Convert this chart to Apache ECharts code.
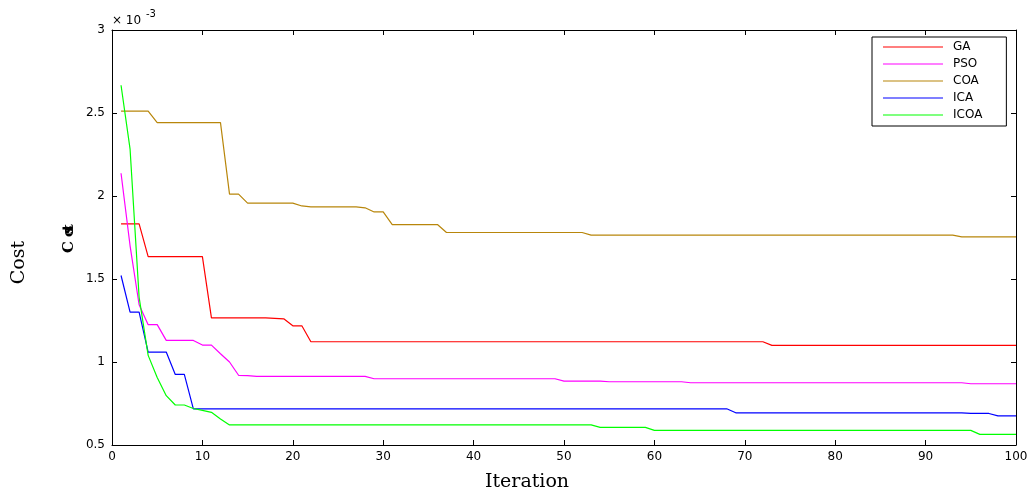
<!DOCTYPE html>
<html>
<head>
<meta charset="utf-8">
<script src="https://cdn.jsdelivr.net/npm/echarts@6/dist/echarts.min.js"></script>
<style>
html,body{margin:0;padding:0;background:#fff;}
#chart{width:1033px;height:497px;}
</style>
</head>
<body>
<div id="chart"></div>
<script>
// Breakpoints of each convergence curve: iteration numbers and cost values (x 10^-3)
const gaIter   = [1, 3, 4, 10, 11, 17, 18, 19, 20, 21, 22, 72, 73, 100];
const gaCost   = [1.832, 1.832, 1.635, 1.635, 1.266, 1.266, 1.263, 1.26, 1.218, 1.218, 1.122, 1.122, 1.10, 1.10];

const psoIter  = [1, 2, 3, 4, 5, 6, 9, 10, 11, 12, 13, 14, 15, 16, 28, 29, 49, 50, 54, 55, 63, 64, 94, 95, 100];
const psoCost  = [2.137, 1.70, 1.345, 1.225, 1.225, 1.13, 1.13, 1.102, 1.102, 1.05, 1.0, 0.92, 0.918, 0.913, 0.913, 0.899, 0.899, 0.885, 0.885, 0.881, 0.881, 0.875, 0.875, 0.869, 0.869];

const coaIter  = [1, 4, 5, 12, 13, 14, 15, 20, 21, 22, 27, 28, 29, 30, 31, 36, 37, 52, 53, 93, 94, 100];
const coaCost  = [2.511, 2.511, 2.442, 2.442, 2.011, 2.011, 1.957, 1.957, 1.94, 1.935, 1.935, 1.929, 1.904, 1.904, 1.828, 1.828, 1.78, 1.78, 1.764, 1.764, 1.754, 1.754];

const icaIter  = [1, 2, 3, 4, 6, 7, 8, 9, 68, 69, 94, 95, 97, 98, 100];
const icaCost  = [1.521, 1.301, 1.301, 1.06, 1.06, 0.925, 0.925, 0.718, 0.718, 0.694, 0.694, 0.69, 0.69, 0.675, 0.675];

const icoaIter = [1, 2, 3, 4, 5, 6, 7, 8, 9, 10, 11, 12, 13, 53, 54, 59, 60, 95, 96, 100];
const icoaCost = [2.667, 2.282, 1.39, 1.04, 0.907, 0.797, 0.741, 0.741, 0.72, 0.709, 0.697, 0.657, 0.621, 0.621, 0.606, 0.606, 0.588, 0.588, 0.564, 0.564];

const seriesNames = ['GA', 'PSO', 'COA', 'ICA', 'ICOA'];
const seriesColors = ['#ff0000', '#ff00ff', '#b8860b', '#0000ff', '#00ff00'];
const xLabelName = 'Iteration';
const yLabelName = 'Cost';

function pairs(xs, ys) { return xs.map((x, i) => [x, ys[i]]); }
const allData = [
  pairs(gaIter, gaCost), pairs(psoIter, psoCost), pairs(coaIter, coaCost),
  pairs(icaIter, icaCost), pairs(icoaIter, icoaCost)
];

const chart = echarts.init(document.getElementById('chart'), null, {renderer: 'canvas'});
const tickFont = {color: '#000', fontFamily: 'DejaVu Sans', fontSize: 12};

const option = {
  animation: false,
  backgroundColor: '#fff',
  grid: {left: 112, right: 17, top: 30, bottom: 49, show: false},
  legend: {
    data: seriesNames,
    orient: 'vertical',
    left: 872, top: 37,
    padding: [4, 24, 5, 11],
    icon: 'rect',
    itemWidth: 60, itemHeight: 1, itemGap: 5,
    backgroundColor: '#fff', borderColor: '#000', borderWidth: 1, borderRadius: 0,
    textStyle: {color: '#000', fontFamily: 'DejaVu Sans', fontSize: 12, lineHeight: 12, padding: [0, 0, 0, 5]}
  },
  xAxis: [{
    type: 'value', min: 0, max: 100, interval: 10,
    name: xLabelName, nameLocation: 'middle', nameGap: 28,
    nameTextStyle: {color: '#000', fontFamily: 'DejaVu Serif', fontSize: 19, padding: [0, 74, 0, 0]},
    axisLine: {show: true, onZero: false, lineStyle: {color: '#000', width: 1}},
    axisTick: {show: true, inside: true, length: 5, lineStyle: {color: '#000'}},
    axisLabel: Object.assign({margin: 6}, tickFont),
    splitLine: {show: false}
  }, {
    type: 'value', min: 0, max: 100, interval: 10, position: 'top',
    axisLine: {show: true, onZero: false, lineStyle: {color: '#000', width: 1}},
    axisTick: {show: true, inside: true, length: 5, lineStyle: {color: '#000'}},
    axisLabel: {show: false}, splitLine: {show: false}
  }],
  yAxis: [{
    type: 'value', min: 0.5, max: 3, interval: 0.5,
    name: yLabelName, nameLocation: 'middle', nameGap: 83,
    nameTextStyle: {color: '#000', fontFamily: 'DejaVu Serif', fontSize: 19, padding: [0, 50, 0, 0]},
    axisLine: {show: true, onZero: false, lineStyle: {color: '#000', width: 1}},
    axisTick: {show: true, inside: true, length: 5, lineStyle: {color: '#000'}},
    axisLabel: Object.assign({margin: 7}, tickFont),
    splitLine: {show: false}
  }, {
    type: 'value', min: 0.5, max: 3, interval: 0.5, position: 'right',
    axisLine: {show: true, onZero: false, lineStyle: {color: '#000', width: 1}},
    axisTick: {show: true, inside: true, length: 5, lineStyle: {color: '#000'}},
    axisLabel: {show: false}, splitLine: {show: false}
  }],
  graphic: [
    {type: 'text', left: 112, top: 15, style: {text: '× 10', fill: '#000', font: '12px "DejaVu Sans"'}},
    {type: 'text', left: 146, top: 9, style: {text: '-3', fill: '#000', font: '10px "DejaVu Sans"'}},
    {type: 'text', x: 62, y: 253, rotation: Math.PI / 2, style: {text: 'C', fill: '#000', font: 'bold 15px "DejaVu Serif"'}},
    {type: 'text', x: 62, y: 237, rotation: Math.PI / 2, style: {text: 'o', fill: '#000', font: 'bold 15px "DejaVu Serif"'}},
    {type: 'text', x: 62, y: 234, rotation: Math.PI / 2, style: {text: 's', fill: '#000', font: 'bold 15px "DejaVu Serif"'}},
    {type: 'text', x: 62, y: 231, rotation: Math.PI / 2, style: {text: 't', fill: '#000', font: 'bold 15px "DejaVu Serif"'}}
  ],
  series: seriesNames.map((n, k) => ({
    name: n, type: 'line', data: allData[k],
    xAxisIndex: 0, yAxisIndex: 0,
    symbol: 'none', smooth: false,
    lineStyle: {color: seriesColors[k], width: 1.2},
    itemStyle: {color: seriesColors[k]}
  }))
};
chart.setOption(option);
</script>
</body>
</html>
